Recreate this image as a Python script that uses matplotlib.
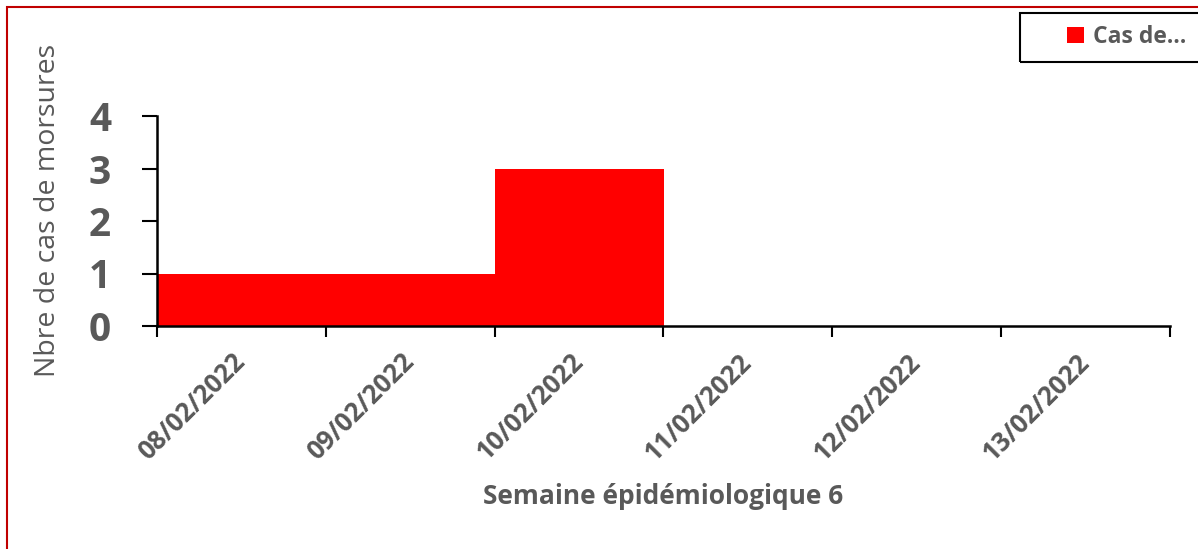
import numpy as np
import matplotlib.pyplot as plt
from matplotlib.patches import Rectangle

dates = ["08/02/2022", "09/02/2022", "10/02/2022", "11/02/2022", "12/02/2022", "13/02/2022"]
cases = [1, 1, 3, 0, 0, 0]
series_name = "Cas de…"

grey = "#595959"
plt.rcParams['font.family'] = ['Open Sans', 'DejaVu Sans']

fig = plt.figure(figsize=(11.98, 5.49), dpi=100)
ax = fig.add_axes([157/1198, 1-326/549, (1170-157)/1198, (326-116)/549])

x = np.arange(len(dates))
ax.bar(x, cases, width=1.0, color="#FF0000", label=series_name)

ax.set_xlim(-0.5, len(dates) - 0.5)
ax.set_ylim(0, 4)
ax.set_yticks([0, 1, 2, 3, 4])
ax.tick_params(axis='y', labelsize=28, labelcolor=grey, length=11, width=1.5, pad=22)
for t in ax.get_yticklabels():
    t.set_fontweight('bold')

# boundaries as major ticks, labels on minor ticks at bar centres
ax.set_xticks(np.arange(-0.5, len(dates), 1.0))
ax.set_xticklabels([])
ax.tick_params(axis='x', which='major', length=8, width=1.5)
ax.set_xticks(x, minor=True)
ax.set_xticklabels(dates, minor=True, rotation=45, ha='right', va='center',
                   rotation_mode='anchor', fontsize=18.5, fontweight='bold', color=grey)
ax.tick_params(axis='x', which='minor', length=0, pad=23)

for s in ['top', 'right']:
    ax.spines[s].set_visible(False)
for s in ['left', 'bottom']:
    ax.spines[s].set_linewidth(1.8)

ax.set_xlabel("Semaine épidémiologique 6", fontsize=19, fontweight='bold', color=grey)
ax.xaxis.set_label_coords(0.5, -0.75)
ax.set_ylabel("Nbre de cas de morsures", fontsize=20.5, color=grey)
ax.yaxis.set_label_coords(-0.094, 0.548)

leg = fig.legend(loc='center left', bbox_to_anchor=(1056/1198, 1-37/549), frameon=False,
                 handlelength=0.7, handleheight=0.7, handletextpad=0.4, borderpad=0,
                 prop={'size': 16.5, 'weight': 'bold'})
for t in leg.get_texts():
    t.set_color(grey)

fig.patches.append(Rectangle((1020/1198, 1-62/549), 0.2, 49/549, transform=fig.transFigure,
                             fill=False, edgecolor='black', linewidth=1.5))
fig.patches.append(Rectangle((7/1198, -0.1), 1.2, 1.1 - 7/549, transform=fig.transFigure,
                             fill=False, edgecolor='#C00000', linewidth=1.5))

fig.savefig("out.png", dpi=100)
